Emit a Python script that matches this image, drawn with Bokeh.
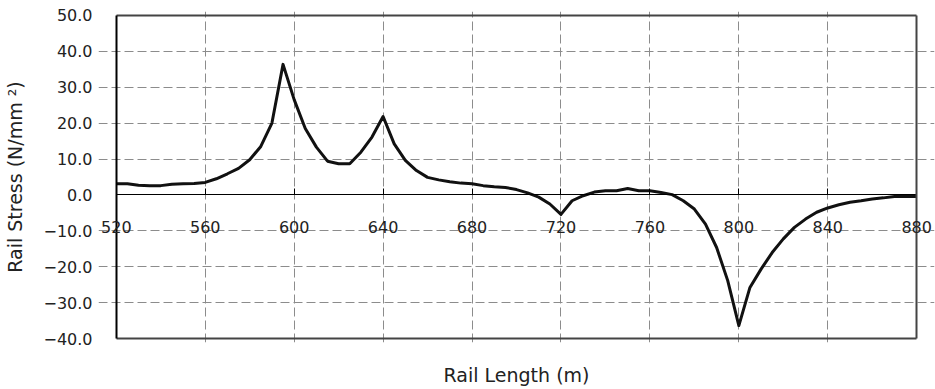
from bokeh.plotting import figure
from bokeh.models import (Range1d, FixedTicker, LinearAxis, CustomJSTickFormatter, Label)
from bokeh.embed import file_html
from bokeh.resources import INLINE

# Data
rail_length = [520, 525, 530, 535, 540, 545, 550, 555, 560, 565, 570, 575, 580, 585, 590,
               595, 600, 605, 610, 615, 620, 625, 630, 635, 640, 645, 650, 655, 660, 665,
               670, 675, 680, 685, 690, 695, 700, 705, 710, 715, 720, 725, 730, 735, 740,
               745, 750, 755, 760, 765, 770, 775, 780, 785, 790, 795, 800, 805, 810, 815,
               820, 825, 830, 835, 840, 845, 850, 855, 860, 865, 870, 875, 880]
rail_stress = [3.1, 3.1, 2.7, 2.6, 2.6, 3.0, 3.1, 3.2, 3.5, 4.5, 5.9, 7.4, 9.8, 13.5, 20.0,
               36.3, 26.5, 18.5, 13.3, 9.4, 8.7, 8.7, 11.9, 16.1, 21.8, 14.2, 9.6, 6.8, 4.9, 4.2,
               3.7, 3.3, 3.1, 2.6, 2.3, 2.1, 1.5, 0.6, -0.6, -2.5, -5.4, -1.6, -0.2, 0.8, 1.2,
               1.2, 1.8, 1.2, 1.2, 0.7, 0.1, -1.6, -3.9, -8.1, -14.6, -23.8, -36.3, -25.7, -20.6, -16.0,
               -12.2, -9.0, -6.7, -4.8, -3.6, -2.7, -2.0, -1.6, -1.1, -0.8, -0.4, -0.4, -0.4]

x_ticks = [520, 560, 600, 640, 680, 720, 760, 800, 840, 880]
x_tick_labels = ["520", "560", "600", "640", "680", "720", "760", "800", "840", "880"]
y_ticks = [-40, -30, -20, -10, 0, 10, 20, 30, 40, 50]

X_MIN, X_MAX = 520, 880
Y_MIN, Y_MAX = -40, 50

FONT = "DejaVu Sans"

# Ranges are padded slightly so the end tick labels are not clipped; the visible
# plot box is drawn at the real limits.
p = figure(width=935, height=389, output_backend="svg", toolbar_location=None,
           x_range=Range1d(X_MIN - 8, X_MAX + 8), y_range=Range1d(Y_MIN - 1, Y_MAX + 1),
           min_border_left=98, min_border_right=1, min_border_top=11, min_border_bottom=47)
p.background_fill_color = "white"
p.border_fill_color = "white"
p.outline_line_color = None

# Keep handles on the default axes before any other axis is added
xa = p.below[0]
ya = p.left[0]
xgrid = p.xgrid[0]
ygrid = p.ygrid[0]


def border_line(loc, bounds, color, width):
    return LinearAxis(fixed_location=loc, bounds=bounds, ticker=FixedTicker(ticks=[]),
                      axis_line_color=color, axis_line_width=width,
                      major_tick_line_color=None, minor_tick_line_color=None,
                      major_tick_out=0, major_tick_in=0, major_label_standoff=0,
                      axis_label_standoff=0)


# Grid
xgrid.ticker = FixedTicker(ticks=x_ticks[1:-1])
ygrid.ticker = FixedTicker(ticks=[t for t in y_ticks if t not in (0, Y_MAX, Y_MIN)])
xgrid.bounds = (Y_MIN, Y_MAX)
ygrid.bounds = (X_MIN, X_MAX)
for g in (xgrid, ygrid):
    g.grid_line_color = "#8c8c8c"
    g.grid_line_dash = "9 4"
    g.grid_line_width = 1

# X axis sitting on the zero line
xa.fixed_location = 0
xa.bounds = (X_MIN, X_MAX)
xa.ticker = FixedTicker(ticks=x_ticks)
xa.formatter = CustomJSTickFormatter(code="return '';")
xa.axis_line_color = "black"
xa.axis_line_width = 1
xa.major_tick_in = 6
xa.major_tick_out = 0
xa.major_tick_line_color = "black"
xa.minor_tick_line_color = None
xa.major_label_standoff = 0
xa.axis_label_standoff = 0

for t, s in zip(x_ticks, x_tick_labels):
    p.add_layout(Label(x=t, y=0, text=s, y_offset=-32, text_align="center",
                       text_baseline="middle", text_font=FONT, text_font_size="16px",
                       text_color="#222222"))

# Y axis (labels in the side panel)
ya.ticker = FixedTicker(ticks=y_ticks)
ya.formatter = CustomJSTickFormatter(code="return tick.toFixed(1).replace('-', '\u2212');")
ya.axis_line_color = None
ya.major_tick_line_color = None
ya.minor_tick_line_color = None
ya.major_tick_out = 0
ya.major_tick_in = 0
ya.major_label_standoff = 6
ya.major_label_text_font = FONT
ya.major_label_text_font_size = "16px"
ya.major_label_text_color = "#222222"
ya.axis_label = "Rail Stress (N/mm \u00b2)"
ya.axis_label_text_font = FONT
ya.axis_label_text_font_size = "19px"
ya.axis_label_text_font_style = "normal"
ya.axis_label_text_color = "#222222"
ya.axis_label_standoff = 14

# Bottom title axis
title_axis = LinearAxis(axis_label="Rail Length (m)", axis_line_color=None,
                        major_tick_line_color=None, minor_tick_line_color=None,
                        major_tick_out=0, major_tick_in=0, major_label_standoff=0,
                        ticker=FixedTicker(ticks=[]))
title_axis.axis_label_text_font = FONT
title_axis.axis_label_text_font_size = "19px"
title_axis.axis_label_text_font_style = "normal"
title_axis.axis_label_text_color = "#222222"
title_axis.axis_label_standoff = 21
p.add_layout(title_axis, "below")

# Plot box edges
p.add_layout(border_line(Y_MAX, (X_MIN, X_MAX), "#444444", 2), "above")
p.add_layout(border_line(Y_MIN, (X_MIN, X_MAX), "#444444", 2), "below")
p.add_layout(border_line(X_MAX, (Y_MIN, Y_MAX), "#444444", 2), "right")
p.add_layout(border_line(X_MIN, (Y_MIN, Y_MAX), "black", 2), "left")

p.line(rail_length, rail_stress, line_color="#111111", line_width=3, line_join="round")

open("out.html", "w").write(file_html(p, INLINE))
